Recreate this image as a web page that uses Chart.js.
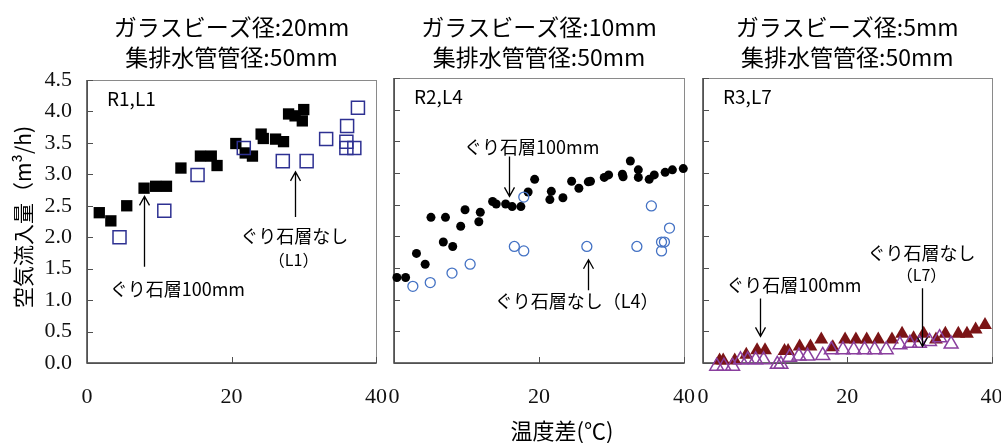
<!DOCTYPE html>
<html lang="ja">
<head>
<meta charset="utf-8">
<script src="https://cdn.jsdelivr.net/npm/chart.js@4.4.1/dist/chart.umd.min.js"></script>
<style>
    html, body { margin: 0; padding: 0; background: #fff; }
    #wrap { position: relative; width: 1001px; height: 443px; }
    #wrap canvas { position: absolute; left: 0; top: 0; }
</style>
</head>
<body>
<div id="wrap">
    <canvas id="c1" width="1001" height="443"></canvas>
    <canvas id="c2" width="1001" height="443"></canvas>
    <canvas id="c3" width="1001" height="443"></canvas>
</div>
<script>
// ---- axis ticks ----
const xTicks = [0, 20, 40];
const yTicks = [0, 0.5, 1, 1.5, 2, 2.5, 3, 3.5, 4, 4.5];

// ---- R1,L1 : glass beads 20mm ----
const r1StoneX = [1.7, 3.3, 5.5, 7.9, 9.5, 11.0, 13.0, 15.7, 17.2, 18.0, 20.6, 21.9, 22.9, 24.1, 24.4, 26.1, 27.2, 27.9, 28.8, 30.0, 29.8];
const r1StoneY = [2.39, 2.26, 2.50, 2.78, 2.81, 2.81, 3.10, 3.29, 3.29, 3.14, 3.49, 3.34, 3.29, 3.64, 3.57, 3.56, 3.52, 3.96, 3.93, 4.03, 3.85];
const r1NoneX = [4.5, 10.7, 15.3, 21.7, 27.1, 30.4, 33.1, 36.0, 37.5, 35.9, 35.9, 37.0];
const r1NoneY = [2.00, 2.42, 2.99, 3.42, 3.21, 3.21, 3.56, 3.77, 4.06, 3.52, 3.42, 3.42];

// ---- R2,L4 : glass beads 10mm ----
const r2StoneX = [0.4, 1.6, 3.1, 4.3, 5.1, 6.8, 7.1, 8.1, 9.2, 9.8, 11.7, 11.9, 13.6, 14.1, 15.4, 16.3, 17.5, 18.5, 19.4, 21.5, 21.7, 23.3, 24.5, 25.5, 26.8, 27.1, 29.0, 29.6, 31.5, 31.6, 32.6, 33.7, 33.7, 35.2, 35.9, 37.4, 38.4, 39.9];
const r2StoneY = [1.35, 1.35, 1.73, 1.56, 2.30, 1.91, 2.30, 1.84, 2.16, 2.42, 2.23, 2.38, 2.55, 2.51, 2.51, 2.47, 2.47, 2.70, 2.90, 2.58, 2.71, 2.61, 2.87, 2.76, 2.86, 2.87, 2.93, 2.97, 2.98, 2.94, 3.19, 3.05, 2.93, 2.90, 2.97, 3.01, 3.05, 3.07];
const r2NoneX = [2.6, 5.0, 8.0, 10.5, 16.6, 17.9, 17.9, 26.6, 33.5, 35.5, 36.9, 37.3, 36.9, 38.0];
const r2NoneY = [1.21, 1.27, 1.42, 1.56, 1.84, 1.77, 2.62, 1.84, 1.84, 2.48, 1.91, 1.91, 1.77, 2.13];

// ---- R3,L7 : glass beads 5mm ----
const r3StoneX = [2.3, 2.8, 4.4, 6.0, 7.5, 8.6, 11.3, 11.8, 13.4, 14.9, 16.4, 18.0, 19.7, 21.2, 22.7, 24.3, 26.2, 27.6, 29.2, 30.6, 32.3, 33.6, 35.4, 36.6, 37.8, 39.1];
const r3StoneY = [0.04, 0.04, 0.04, 0.13, 0.20, 0.20, 0.19, 0.19, 0.26, 0.26, 0.37, 0.25, 0.37, 0.37, 0.37, 0.37, 0.37, 0.46, 0.39, 0.46, 0.37, 0.46, 0.46, 0.46, 0.53, 0.60];
const r3NoneX = [1.9, 2.9, 4.1, 5.2, 6.2, 7.3, 8.4, 10.3, 10.8, 12.0, 13.3, 14.5, 16.6, 17.8, 19.4, 20.9, 22.4, 23.8, 25.4, 27.3, 28.7, 30.0, 31.4, 32.8, 34.4];
const r3NoneY = [-0.05, -0.05, -0.05, 0.05, 0.05, 0.05, 0.05, -0.02, -0.02, 0.09, 0.11, 0.11, 0.12, 0.21, 0.21, 0.21, 0.21, 0.21, 0.21, 0.29, 0.31, 0.31, 0.34, 0.40, 0.30];

const JP = '"Noto Sans CJK JP", "Noto Sans", sans-serif';
const SERIF = '"Liberation Serif", "DejaVu Serif", serif';

function pts(xs, ys) {
    return xs.map((x, i) => ({ x: x, y: ys[i] }));
}

// Draw box, inward ticks, titles, notes and arrows
const decorPlugin = {
    id: 'decor',
    beforeDatasetsDraw(chart, args, o) {
        const ctx = chart.ctx;
        const a = chart.chartArea;
        const xs = chart.scales.x, ys = chart.scales.y;
        ctx.save();
        ctx.lineWidth = 1;
        ctx.strokeStyle = o.boxColor || '#8a8a8a';
        ctx.strokeRect(Math.round(a.left) + 0.5, Math.round(a.top) + 0.5, Math.round(a.width), Math.round(a.height));
        ctx.strokeStyle = '#404040';
        ctx.lineWidth = 1.5;
        ctx.beginPath();
        ctx.moveTo(a.left, a.top);
        ctx.lineTo(a.left, a.bottom);
        ctx.lineTo(a.right, a.bottom);
        ctx.stroke();
        ctx.lineWidth = 1;
        ctx.strokeStyle = '#505050';
        ctx.beginPath();
        yTicks.forEach((v) => {
            const y = Math.round(ys.getPixelForValue(v)) + 0.5;
            ctx.moveTo(a.left, y);
            ctx.lineTo(a.left + 6, y);
        });
        xTicks.forEach((v) => {
            const x = Math.round(xs.getPixelForValue(v)) + 0.5;
            ctx.moveTo(x, a.bottom);
            ctx.lineTo(x, a.bottom - 6);
        });
        ctx.stroke();
        ctx.restore();
    },
    afterDatasetsDraw(chart, args, o) {
        const ctx = chart.ctx;
        const a = chart.chartArea;
        const xs = chart.scales.x, ys = chart.scales.y;
        ctx.save();
        ctx.fillStyle = '#000';
        ctx.textAlign = 'center';
        ctx.textBaseline = 'middle';

        // two-line panel title
        ctx.font = '23px ' + JP;
        const cx = (a.left + a.right) / 2;
        ctx.fillText(o.title[0], cx, 27);
        ctx.fillText(o.title[1], cx, 57);

        // panel tag (R1,L1 ...)
        ctx.textAlign = 'left';
        ctx.font = '19px ' + JP;
        ctx.fillText(o.tag, a.left + 20, a.top + 19);

        // notes
        (o.notes || []).forEach((n) => {
            ctx.textAlign = 'center';
            ctx.font = (n.size || 18) + 'px ' + JP;
            ctx.fillText(n.text, xs.getPixelForValue(n.x), ys.getPixelForValue(n.y));
        });

        // arrows (open V head at the y2 end)
        ctx.strokeStyle = '#000';
        ctx.lineWidth = 1.3;
        (o.arrows || []).forEach((r) => {
            const x = Math.round(xs.getPixelForValue(r.x)) + 0.5;
            const y1 = ys.getPixelForValue(r.y1);
            const y2 = ys.getPixelForValue(r.y2);
            const dir = y2 < y1 ? 1 : -1;
            ctx.beginPath();
            ctx.moveTo(x, y1);
            ctx.lineTo(x, y2);
            ctx.moveTo(x - 5, y2 + dir * 9);
            ctx.lineTo(x, y2);
            ctx.lineTo(x + 5, y2 + dir * 9);
            ctx.stroke();
        });

        // axis titles
        if (o.yTitle) {
            ctx.save();
            ctx.translate(23, 217);
            ctx.rotate(-Math.PI / 2);
            ctx.textAlign = 'center';
            ctx.font = '21px ' + JP;
            ctx.fillText(o.yTitle, 0, 0);
            ctx.restore();
        }
        if (o.xTitle) {
            ctx.textAlign = 'center';
            ctx.font = '22px ' + JP;
            ctx.fillText(o.xTitle, 562, 431);
        }
        ctx.restore();
    }
};

function makeScales(showY) {
    return {
        x: {
            type: 'linear',
            min: 0,
            max: 40,
            afterBuildTicks: (s) => { s.ticks = xTicks.map((v) => ({ value: v })); },
            grid: { display: false },
            border: { display: false },
            ticks: {
                font: { family: SERIF, size: 22 },
                color: '#111',
                padding: 13,
                maxRotation: 0,
                callback: (v) => String(v),
            },
            afterFit: (s) => { s.height = 60; s.paddingLeft = 0; s.paddingRight = 0; },
        },
        y: {
            type: 'linear',
            min: 0,
            max: 4.5,
            afterBuildTicks: (s) => { s.ticks = yTicks.map((v) => ({ value: v })); },
            grid: { display: false },
            border: { display: false },
            ticks: {
                display: showY,
                font: { family: SERIF, size: 22 },
                color: '#111',
                padding: 7,
                callback: (v) => v.toFixed(1),
            },
            afterFit: (s) => { s.width = 70; s.paddingTop = 0; s.paddingBottom = 0; },
        },
    };
}

function makeChart(id, area, datasets, decor, showY) {
    return new Chart(document.getElementById(id), {
        type: 'scatter',
        data: { datasets: datasets },
        options: {
            responsive: false,
            animation: false,
            events: [],
            layout: {
                padding: {
                    left: area.left - 70,
                    top: area.top,
                    right: 1001 - area.right,
                    bottom: 443 - area.bottom - 60,
                },
            },
            plugins: { legend: { display: false }, tooltip: { enabled: false }, decor: decor },
            scales: makeScales(showY),
        },
        plugins: [decorPlugin],
    });
}

// Panel 1
makeChart('c1', { left: 87, top: 80, right: 376, bottom: 363 }, [
    { data: pts(r1StoneX, r1StoneY), pointStyle: 'rect', pointRadius: 8, backgroundColor: '#000', borderWidth: 0, order: 2, clip: false },
    { data: pts(r1NoneX, r1NoneY), pointStyle: 'rect', pointRadius: 9.2, backgroundColor: 'rgba(0,0,0,0)', borderColor: '#2e3192', borderWidth: 1.5, order: 1, clip: false },
], {
    title: ['ガラスビーズ径:20mm', '集排水管管径:50mm'],
    tag: 'R1,L1',
    notes: [
        { text: 'ぐり石層100mm', x: 12.5, y: 1.18 },
        { text: 'ぐり石層なし', x: 28.7, y: 2.02 },
        { text: '（L1）', x: 28.6, y: 1.64, size: 16 },
    ],
    arrows: [
        { x: 7.9, y1: 1.53, y2: 2.65 },
        { x: 28.8, y1: 2.32, y2: 3.04 },
    ],
    yTitle: '空気流入量（m³/h)',
}, true);

// Panel 2
makeChart('c2', { left: 394, top: 78, right: 684, bottom: 363 }, [
    { data: pts(r2StoneX, r2StoneY), pointStyle: 'circle', pointRadius: 4.5, backgroundColor: '#000', borderWidth: 0, order: 2, clip: false },
    { data: pts(r2NoneX, r2NoneY), pointStyle: 'circle', pointRadius: 5, backgroundColor: 'rgba(0,0,0,0)', borderColor: '#4472c4', borderWidth: 1.3, order: 1, clip: false },
], {
    title: ['ガラスビーズ径:10mm', '集排水管管径:50mm'],
    tag: 'R2,L4',
    notes: [
        { text: 'ぐり石層100mm', x: 19.0, y: 3.41 },
        { text: 'ぐり石層なし（L4）', x: 25.2, y: 0.98 },
    ],
    arrows: [
        { x: 15.8, y1: 3.26, y2: 2.63 },
        { x: 26.7, y1: 1.15, y2: 1.63 },
    ],
    xTitle: '温度差(℃)',
}, false);

// Panel 3
makeChart('c3', { left: 703, top: 78, right: 992, bottom: 363 }, [
    { data: pts(r3StoneX, r3StoneY), pointStyle: 'triangle', pointRadius: 8, backgroundColor: '#7b1416', borderWidth: 0, order: 2, clip: false },
    { data: pts(r3NoneX, r3NoneY), pointStyle: 'triangle', pointRadius: 8, backgroundColor: 'rgba(0,0,0,0)', borderColor: '#8a3f9e', borderWidth: 1.5, order: 1, clip: false },
], {
    title: ['ガラスビーズ径:5mm', '集排水管管径:50mm'],
    tag: 'R3,L7',
    notes: [
        { text: 'ぐり石層100mm', x: 12.6, y: 1.23 },
        { text: 'ぐり石層なし', x: 30.3, y: 1.74 },
        { text: '（L7）', x: 30.3, y: 1.39, size: 16 },
    ],
    arrows: [
        { x: 7.9, y1: 1.02, y2: 0.42 },
        { x: 30.3, y1: 1.18, y2: 0.26 },
    ],
}, false);
</script>
</body>
</html>
